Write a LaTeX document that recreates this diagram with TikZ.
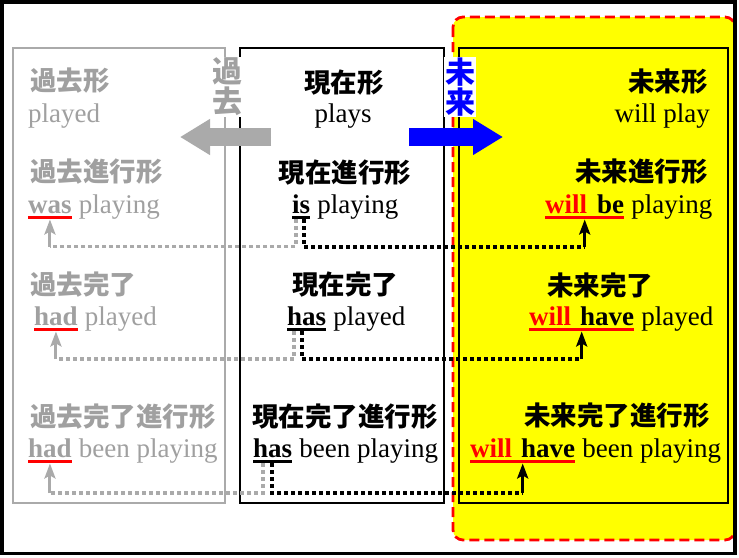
\documentclass[tikz,border=0pt]{standalone}
\usepackage{fontspec}
\setmainfont{Liberation Serif}
\newfontfamily\jpfont{Noto Sans CJK JP}
\usepackage{xcolor}
\usetikzlibrary{arrows.meta,calc}
\definecolor{pastgray}{RGB}{160,160,160}
\definecolor{linegray}{RGB}{170,170,170}
\definecolor{futblue}{RGB}{0,0,255}
\definecolor{futyellow}{RGB}{255,255,0}

\begin{document}
\begin{tikzpicture}[x=1pt,y=-1pt,
  head/.style={inner sep=0pt,font=\jpfont\bfseries\fontsize{26.5}{26.5}\selectfont},
  vlabel/.style={inner xsep=1pt,inner ysep=1pt,fill=white,align=center,font=\jpfont\bfseries\fontsize{30}{30}\selectfont},
  word/.style={inner sep=0pt,anchor=base west,font=\fontsize{27}{27}\selectfont},
  bword/.style={word,font=\fontsize{27}{27}\selectfont\bfseries},
  past/.style={text=pastgray},
  redul/.style={draw=red,line width=2.2pt},
  blkul/.style={draw=black,line width=2.2pt},
  gdash/.style={draw=linegray,line width=3.2pt,dash pattern=on 4pt off 3pt},
  kdash/.style={draw=black,line width=3.2pt,dash pattern=on 4pt off 3pt},
  garr/.style={draw=linegray,line width=3pt,-{Stealth[length=15pt,width=11pt,inset=3pt]}},
  karr/.style={draw=black,line width=3pt,-{Stealth[length=15pt,width=11pt,inset=3pt]}},
  bigarr/.style={line width=18pt,-{Triangle[length=30pt,width=34pt]}}]
  \useasboundingbox (0,0) rectangle (739,557);
  \fill[white] (0,0) rectangle (739,557);
  % future area and the three columns
  \draw[red,line width=2.8pt,dash pattern=on 10pt off 5pt,fill=futyellow,rounded corners=10pt] (453,17) rectangle (735,540);
  \draw[linegray,line width=1.2pt] (13,48) rectangle (225,503);
  \draw[black,line width=1.2pt] (240,48) rectangle (444,503);
  \draw[black,line width=1.2pt] (459,48) rectangle (728,503);
  \coordinate (pastTail) at (271,137);
  \coordinate (pastTip) at (180,137);
  \coordinate (futTail) at (409,137);
  \coordinate (futTip) at (503,137);
  \draw[bigarr,draw=linegray,fill=linegray] (pastTail) -- (pastTip);
  \draw[bigarr,draw=futblue,fill=futblue] (futTail) -- (futTip);
  \node[vlabel,text=pastgray] (pastLbl) at (227,87) {過\\去};
  \node[vlabel,text=futblue] (futLbl) at (460,87) {未\\来};

  % simple
  \node[head,past,anchor=west] (pastH) at (30,81) {過去形};
  \node[word,past] (pastW) at (28,122) {played};
  \node[head] (presH) at (344,83) {現在形};
  \node[word,anchor=base] (presW) at (343,122) {plays};
  \node[head,anchor=east] (futH) at (708,82) {未来形};
  \node[word,anchor=base east] (futW) at (710,122) {will play};

  % progressive
  \node[head,past,anchor=west] (pastProgH) at (30,172) {過去進行形};
  \node[bword,past] (was) at (28,213) {was};
  \node[word,past] (wasRest) at (was.base east) {\ playing};
  \node[head] (presProgH) at (345,173) {現在進行形};
  \node[bword] (is) at (292,213) {is};
  \node[word] (isRest) at (is.base east) {\ playing};
  \node[head,anchor=east] (futProgH) at (708,172) {未来進行形};
  \node[bword] (willbe) at (545,213) {\textcolor{red}{will}\hspace{10pt}be};
  \node[word] (willbeRest) at (willbe.base east) {\ playing};

  % perfect
  \node[head,past,anchor=west] (pastPerfH) at (30,285) {過去完了};
  \node[bword,past] (hadA) at (34,325) {had};
  \node[word,past] (hadARest) at (hadA.base east) {\ played};
  \node[head] (presPerfH) at (345,285) {現在完了};
  \node[bword] (hasA) at (287,325) {has};
  \node[word] (hasARest) at (hasA.base east) {\ played};
  \node[head,anchor=west] (futPerfH) at (547,285) {未来完了};
  \node[bword] (willhaveA) at (529,325) {\textcolor{red}{will}\hspace{9pt}have};
  \node[word] (willhaveARest) at (willhaveA.base east) {\ played};

  % perfect progressive
  \node[head,past,anchor=west] (pastPpH) at (30,417) {過去完了進行形};
  \node[bword,past] (hadB) at (28,457) {had};
  \node[word,past] (hadBRest) at (hadB.base east) {\ been playing};
  \node[head] (presPpH) at (345,417) {現在完了進行形};
  \node[bword] (hasB) at (253,457) {has};
  \node[word] (hasBRest) at (hasB.base east) {\ been playing};
  \node[head,anchor=east] (futPpH) at (710,416) {未来完了進行形};
  \node[bword] (willhaveB) at (470,457) {\textcolor{red}{will}\hspace{9pt}have};
  \node[word] (willhaveBRest) at (willhaveB.base east) {\ been playing};

  % underlines
  \draw[redul] ($(was.base west)+(0,4.5)$) -- ($(was.base east)+(0,4.5)$);
  \draw[redul] ($(hadA.base west)+(0,4.5)$) -- ($(hadA.base east)+(0,4.5)$);
  \draw[redul] ($(hadB.base west)+(0,4.5)$) -- ($(hadB.base east)+(0,4.5)$);
  \draw[blkul] ($(is.base west)+(0,4.5)$) -- ($(is.base east)+(0,4.5)$);
  \draw[blkul] ($(hasA.base west)+(0,4.5)$) -- ($(hasA.base east)+(0,4.5)$);
  \draw[blkul] ($(hasB.base west)+(0,4.5)$) -- ($(hasB.base east)+(0,4.5)$);
  \draw[redul] ($(willbe.base west)+(0,4.5)$) -- ($(willbe.base east)+(0,4.5)$);
  \draw[redul] ($(willhaveA.base west)+(0,4.5)$) -- ($(willhaveA.base east)+(0,4.5)$);
  \draw[redul] ($(willhaveB.base west)+(0,4.5)$) -- ($(willhaveB.base east)+(0,4.5)$);

  % connectors
  \coordinate (g2) at (296,246.5);
  \coordinate (k2) at (304,247);
  \coordinate (g3) at (294,359);
  \coordinate (k3) at (302,359);
  \coordinate (g4) at (263,493);
  \coordinate (k4) at (272,493);
  \draw[gdash] ($(is.south -| g2)+(0,6)$) -- (g2) -- (was.south |- g2);
  \draw[garr] (was.south |- g2) -- ($(was.south)+(0,6)$);
  \draw[kdash] ($(is.south -| k2)+(0,6)$) -- (k2) -- (willbe.south |- k2);
  \draw[karr] (willbe.south |- k2) -- ($(willbe.south)+(0,6)$);
  \draw[gdash] ($(hasA.south -| g3)+(0,6)$) -- (g3) -- (hadA.south |- g3);
  \draw[garr] (hadA.south |- g3) -- ($(hadA.south)+(0,6)$);
  \draw[kdash] ($(hasA.south -| k3)+(0,6)$) -- (k3) -- (willhaveA.south |- k3);
  \draw[karr] (willhaveA.south |- k3) -- ($(willhaveA.south)+(0,6)$);
  \draw[gdash] ($(hasB.south -| g4)+(0,6)$) -- (g4) -- (hadB.south |- g4);
  \draw[garr] (hadB.south |- g4) -- ($(hadB.south)+(0,6)$);
  \draw[kdash] ($(hasB.south -| k4)+(0,6)$) -- (k4) -- (willhaveB.south |- k4);
  \draw[karr] (willhaveB.south |- k4) -- ($(willhaveB.south)+(0,6)$);

  \draw[black,line width=3.5pt] (1.75,1.75) rectangle (735,553.5);
\end{tikzpicture}
\end{document}
